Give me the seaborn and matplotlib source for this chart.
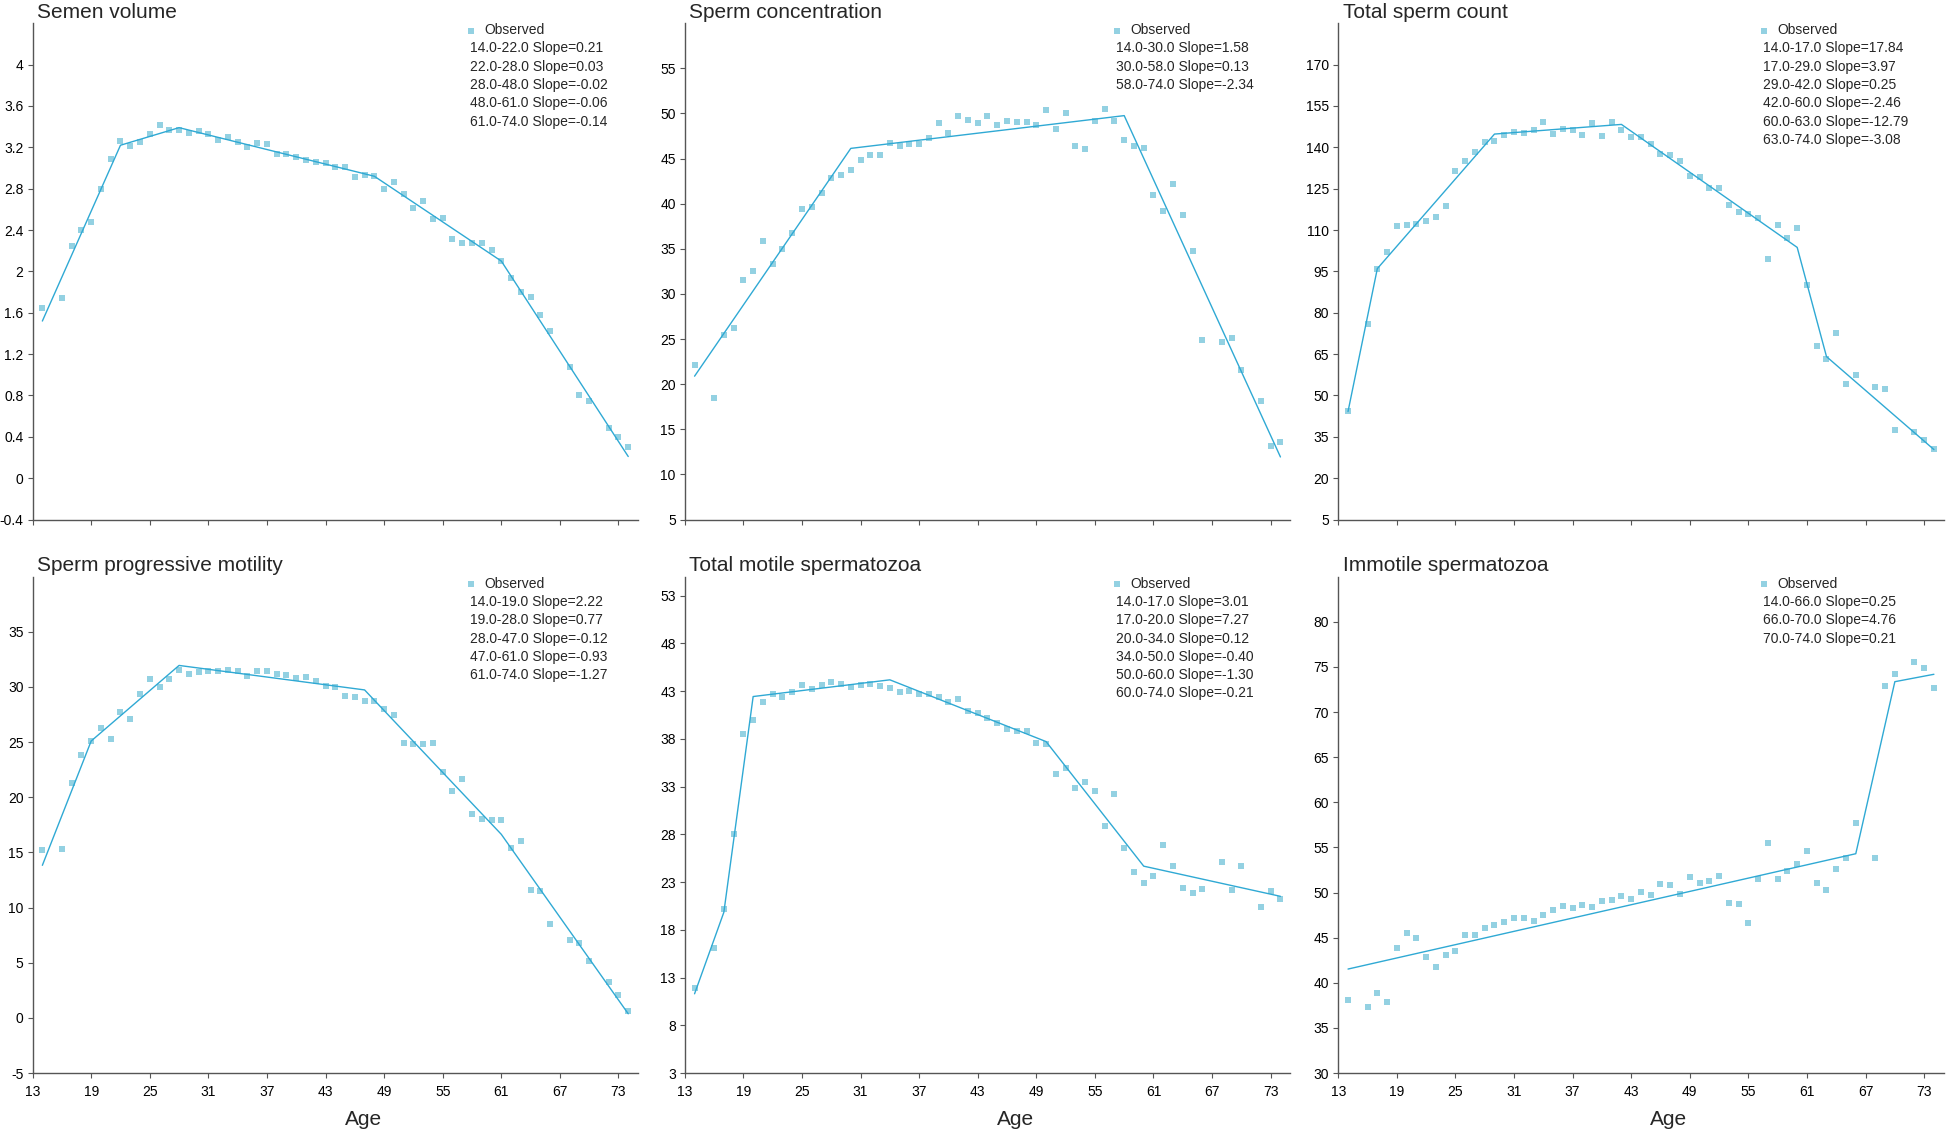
import numpy as np
import matplotlib
matplotlib.use("Agg")
import matplotlib.pyplot as plt
import seaborn as sns

# ages shared by every panel (15, 67 and 71 are absent)
ages = [14, 16, 17, 18, 19, 20, 21, 22, 23, 24,
        25, 26, 27, 28, 29, 30, 31, 32, 33, 34,
        35, 36, 37, 38, 39, 40, 41, 42, 43, 44,
        45, 46, 47, 48, 49, 50, 51, 52, 53, 54,
        55, 56, 57, 58, 59, 60, 61, 62, 63, 64,
        65, 66, 68, 69, 70, 72, 73, 74]

semen_volume = [1.65, 1.74, 2.25, 2.40, 2.48, 2.80, 3.09, 3.26, 3.21, 3.25,
                3.33, 3.42, 3.37, 3.37, 3.34, 3.36, 3.33, 3.27, 3.30, 3.25,
                3.20, 3.24, 3.23, 3.14, 3.14, 3.11, 3.08, 3.06, 3.05, 3.01,
                3.01, 2.91, 2.93, 2.92, 2.80, 2.86, 2.75, 2.61, 2.68, 2.51,
                2.52, 2.31, 2.27, 2.27, 2.27, 2.21, 2.10, 1.94, 1.80, 1.75,
                1.58, 1.42, 1.08, 0.80, 0.75, 0.49, 0.40, 0.30]
concentration = [22.15, 18.49, 25.47, 26.25, 31.54, 32.52, 35.88, 33.27, 34.93, 36.70,
                 39.38, 39.66, 41.16, 42.85, 43.21, 43.72, 44.79, 45.42, 45.42, 46.76,
                 46.36, 46.60, 46.60, 47.23, 48.89, 47.82, 49.76, 49.24, 48.89, 49.76,
                 48.73, 49.12, 49.01, 49.01, 48.73, 50.35, 48.26, 50.03, 46.44, 46.09,
                 49.12, 50.47, 49.12, 47.07, 46.36, 46.21, 41.00, 39.19, 42.18, 38.79,
                 34.77, 24.87, 24.64, 25.15, 21.60, 18.17, 13.12, 13.64]
total_count = [44.3, 75.9, 96.0, 101.9, 111.4, 111.8, 112.2, 113.1, 114.6, 118.8,
               131.3, 135.1, 138.2, 142.1, 142.2, 144.4, 145.5, 145.3, 146.2, 149.0,
               144.8, 146.5, 146.1, 144.5, 148.7, 144.0, 149.0, 146.2, 143.7, 143.7,
               141.1, 137.6, 137.3, 135.1, 129.6, 129.1, 125.4, 125.4, 119.1, 116.4,
               115.9, 114.2, 99.6, 111.8, 107.2, 110.9, 90.2, 67.8, 63.1, 72.7,
               54.3, 57.4, 53.1, 52.2, 37.6, 36.7, 34.0, 30.6]
prog_motility = [15.20, 15.30, 21.31, 23.83, 25.07, 26.24, 25.30, 27.72, 27.05, 29.36,
                 30.70, 29.97, 30.70, 31.51, 31.21, 31.31, 31.41, 31.41, 31.54, 31.44,
                 30.97, 31.41, 31.41, 31.21, 31.11, 30.81, 30.87, 30.50, 30.13, 29.97,
                 29.16, 29.06, 28.76, 28.76, 27.99, 27.45, 24.93, 24.83, 24.83, 24.93,
                 22.32, 20.54, 21.61, 18.46, 18.05, 17.92, 17.92, 15.44, 16.07, 11.61,
                 11.48, 8.49, 7.08, 6.81, 5.20, 3.29, 2.11, 0.60]
total_motile = [11.89, 16.06, 20.19, 28.02, 38.50, 39.94, 41.85, 42.67, 42.44, 42.95,
                43.69, 43.26, 43.61, 43.96, 43.72, 43.49, 43.65, 43.72, 43.53, 43.37,
                42.95, 43.02, 42.67, 42.67, 42.44, 41.85, 42.20, 40.92, 40.76, 40.18,
                39.71, 39.01, 38.78, 38.78, 37.61, 37.49, 34.37, 35.00, 32.81, 33.44,
                32.58, 28.92, 32.23, 26.58, 24.04, 22.91, 23.69, 26.93, 24.67, 22.37,
                21.90, 22.25, 25.14, 22.13, 24.67, 20.38, 22.06, 21.28]
immotile = [38.11, 37.34, 38.85, 37.87, 43.89, 45.57, 44.96, 42.83, 41.72, 43.07,
            43.52, 45.33, 45.33, 46.11, 46.43, 46.72, 47.21, 47.21, 46.84, 47.46,
            48.03, 48.52, 48.28, 48.65, 48.40, 49.06, 49.18, 49.63, 49.26, 50.04,
            49.75, 50.94, 50.82, 49.88, 51.76, 51.07, 51.23, 51.84, 48.81, 48.69,
            46.60, 51.48, 55.53, 51.52, 52.42, 53.16, 54.59, 51.07, 50.29, 52.66,
            53.81, 57.70, 53.81, 72.83, 74.18, 75.49, 74.84, 72.70]

# piecewise fits (breakpoint ages and fitted values)
fit1_x = [14, 22, 28, 48, 61, 74]
fit1_y = [1.52, 3.22, 3.39, 2.92, 2.10, 0.21]
fit2_x = [14, 30, 58, 74]
fit2_y = [20.89, 46.13, 49.76, 11.94]
fit3_x = [14, 17, 29, 42, 60, 63, 74]
fit3_y = [44.2, 96.0, 144.8, 148.3, 103.7, 64.1, 30.4]
fit4_x = [14, 19, 28, 47, 61, 74]
fit4_y = [13.83, 25.10, 31.95, 29.73, 16.64, 0.37]
fit5_x = [14, 17, 20, 34, 50, 60, 74]
fit5_y = [11.30, 19.84, 42.44, 44.19, 37.72, 24.67, 21.51]
fit6_x = [14, 66, 70, 74]
fit6_y = [41.52, 54.30, 73.36, 74.18]

slopes1 = ["14.0-22.0 Slope=0.21", "22.0-28.0 Slope=0.03", "28.0-48.0 Slope=-0.02",
           "48.0-61.0 Slope=-0.06", "61.0-74.0 Slope=-0.14"]
slopes2 = ["14.0-30.0 Slope=1.58", "30.0-58.0 Slope=0.13", "58.0-74.0 Slope=-2.34"]
slopes3 = ["14.0-17.0 Slope=17.84", "17.0-29.0 Slope=3.97", "29.0-42.0 Slope=0.25",
           "42.0-60.0 Slope=-2.46", "60.0-63.0 Slope=-12.79", "63.0-74.0 Slope=-3.08"]
slopes4 = ["14.0-19.0 Slope=2.22", "19.0-28.0 Slope=0.77", "28.0-47.0 Slope=-0.12",
           "47.0-61.0 Slope=-0.93", "61.0-74.0 Slope=-1.27"]
slopes5 = ["14.0-17.0 Slope=3.01", "17.0-20.0 Slope=7.27", "20.0-34.0 Slope=0.12",
           "34.0-50.0 Slope=-0.40", "50.0-60.0 Slope=-1.30", "60.0-74.0 Slope=-0.21"]
slopes6 = ["14.0-66.0 Slope=0.25", "66.0-70.0 Slope=4.76", "70.0-74.0 Slope=0.21"]

titles = ["Semen volume", "Sperm concentration", "Total sperm count",
          "Sperm progressive motility", "Total motile spermatozoa", "Immotile spermatozoa"]
observed = [semen_volume, concentration, total_count, prog_motility, total_motile, immotile]
fits = [(fit1_x, fit1_y), (fit2_x, fit2_y), (fit3_x, fit3_y),
        (fit4_x, fit4_y), (fit5_x, fit5_y), (fit6_x, fit6_y)]
slopes = [slopes1, slopes2, slopes3, slopes4, slopes5, slopes6]
ylims = [(-0.4, 4.4), (5, 60), (5, 185), (-5, 40), (3, 55), (30, 85)]
yticks = [np.arange(-0.4, 4.01, 0.4), np.arange(5, 56, 5), np.arange(5, 171, 15),
          np.arange(-5, 36, 5), np.arange(3, 54, 5), np.arange(30, 81, 5)]
xticks = [13, 19, 25, 31, 37, 43, 49, 55, 61, 67, 73]

sns.set_style("ticks")
plt.rcParams['font.family'] = ['Liberation Sans', 'DejaVu Sans']

point_color = "#93d1e2"
line_color = "#2fa9d4"
axis_color = "#555555"

fig = plt.figure(figsize=(19.46, 11.32), dpi=100)
lefts = [0.01675, 0.3519, 0.6877]
bottoms = [0.5410, 0.0521]
legend_x = [0.723, 0.713, 0.702]
W, H = 0.3111, 0.4385

for i in range(6):
    r, c = divmod(i, 3)
    ax = fig.add_axes([lefts[c], bottoms[r], W, H])
    sns.scatterplot(x=ages, y=observed[i], ax=ax, marker="s", s=16,
                    color=point_color, linewidth=0, label="Observed")
    sns.lineplot(x=fits[i][0], y=fits[i][1], ax=ax, color=line_color,
                 linewidth=1.0, errorbar=None, legend=False)
    ax.set_xlim(13, 75)
    ax.set_ylim(*ylims[i])
    ax.set_xticks(xticks)
    ax.set_yticks(yticks[i])
    ax.set_yticklabels([f"{round(v, 2):g}" for v in yticks[i]])
    if r == 0:
        ax.set_xticklabels([])
        ax.set_xlabel("")
    else:
        ax.set_xlabel("Age", fontsize=15)
        ax.xaxis.set_label_coords(0.546, -0.075)
    ax.set_ylabel("")
    ax.set_title(titles[i], loc="left", fontsize=15, pad=4, x=0.007)
    sns.despine(ax=ax)
    for sp in ["left", "bottom"]:
        ax.spines[sp].set_color(axis_color)
        ax.spines[sp].set_linewidth(1.0)
    ax.tick_params(axis="both", colors=axis_color, labelcolor="black",
                   labelsize=10, length=3.5, width=0.8, pad=3)
    ax.tick_params(axis="x", pad=5)

    lx = legend_x[c]
    ax.legend(handles=[ax.collections[0]], labels=["Observed"], loc="upper left",
              bbox_to_anchor=(lx - 0.004, 1.0), frameon=False, fontsize=10,
              handlelength=0.5, handletextpad=0.7, borderpad=0, borderaxespad=0)
    for k, s in enumerate(slopes[i]):
        ax.text(lx, 1 - (7 + 18.3 * (k + 1)) / 496.6, s, transform=ax.transAxes,
                fontsize=10, va="center", ha="left")

fig.savefig("out.png", dpi=100)
